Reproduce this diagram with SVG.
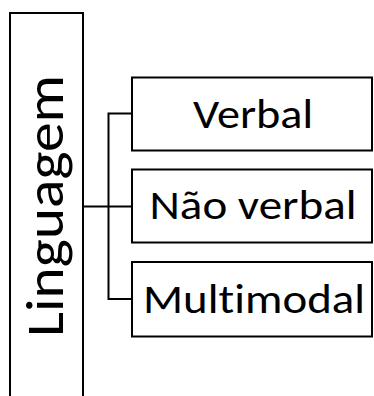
<svg xmlns="http://www.w3.org/2000/svg" width="374" height="396" viewBox="0 0 374 396">
<style>
.box{fill:#fff;stroke:#000;stroke-width:2}
.lbl{font-family:Carlito,Lato,"Liberation Sans",sans-serif;font-size:41px;fill:#000;text-anchor:middle;font-variant-ligatures:none;font-feature-settings:"liga" 0,"clig" 0}
.conn{fill:none;stroke:#000;stroke-width:2}
</style>
<rect width="374" height="396" fill="#fff"/>
<g id="linguagem">
<rect class="box" x="10" y="13" width="73" height="400"/>
<text class="lbl" style="font-size:53px" transform="translate(63 206) rotate(-90)" textLength="262" lengthAdjust="spacingAndGlyphs">Linguagem</text>
</g>
<g id="connectors">
<path class="conn" d="M83 206.5H132M132 113.5H108.5V299H132"/>
</g>
<g id="verbal">
<rect class="box" x="132" y="77.5" width="240" height="73"/>
<text class="lbl" x="253" y="127.5" textLength="120" lengthAdjust="spacingAndGlyphs">Verbal</text>
</g>
<g id="nao-verbal">
<rect class="box" x="132" y="169.5" width="240" height="73"/>
<text class="lbl" x="253" y="218.5" textLength="207" lengthAdjust="spacingAndGlyphs">Não verbal</text>
</g>
<g id="multimodal">
<rect class="box" x="132" y="262" width="240" height="74.5"/>
<text class="lbl" x="254" y="313" textLength="222" lengthAdjust="spacingAndGlyphs">Multimodal</text>
</g>
</svg>
